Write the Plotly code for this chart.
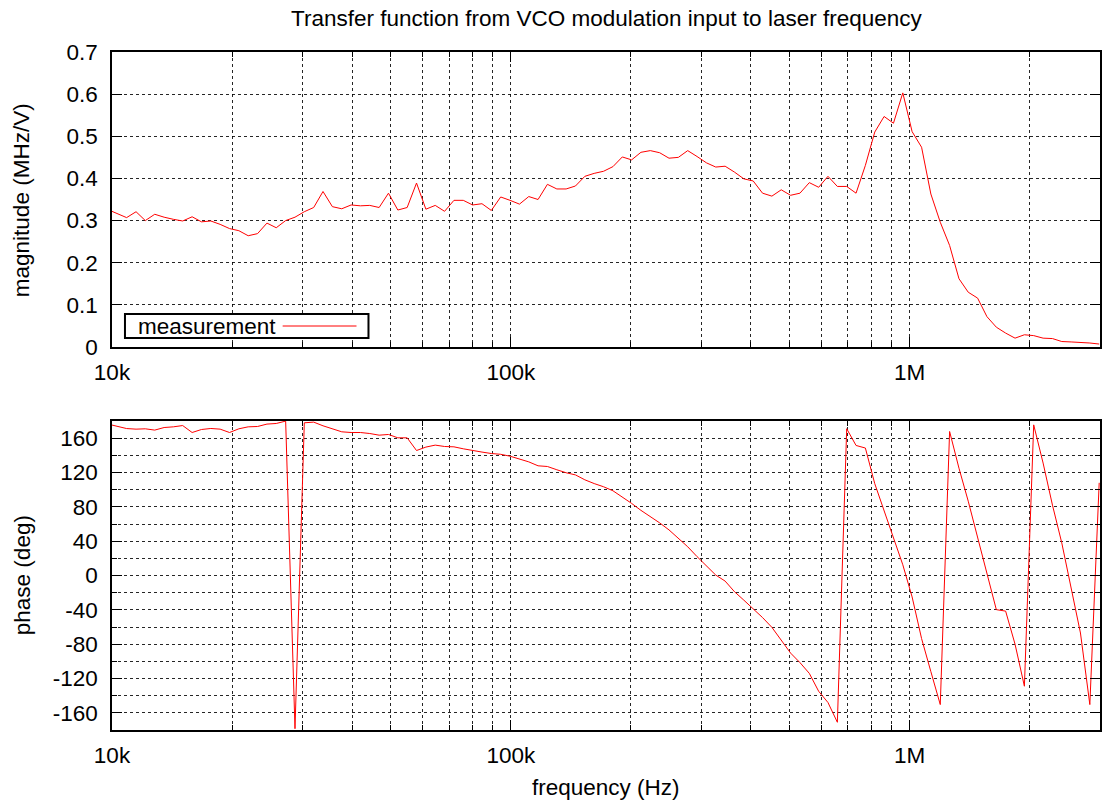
import math
import plotly.graph_objects as go

# ---------------- data ----------------
freq_hz = [
    9768, 10310, 10880, 11490, 12120, 12800, 13510, 14250, 15040, 15880,
    16760, 17690, 18670, 19710, 20800, 21950, 23170, 24460, 25810, 27250,
    28760, 30350, 32040, 33810, 35690, 37670, 39760, 41960, 44290, 46750,
    49340, 52080, 54960, 58010, 61230, 64630, 68210, 72000, 75990, 80210,
    84650, 89350, 94310, 99540, 105100, 110900, 117000, 123500, 130400, 137600,
    145200, 153300, 161800, 170800, 180300, 190300, 200800, 211900, 223700, 236100,
    249200, 263000, 277600, 293000, 309300, 326400, 344500, 363700, 383800, 405100,
    427600, 451300, 476300, 502800, 530700, 560100, 591200, 623900, 658600, 695100,
    733700, 774300, 817300, 862600, 910500, 961000, 1014000, 1071000, 1130000, 1193000,
    1259000, 1329000, 1402000, 1480000, 1562000, 1649000, 1740000, 1837000, 1939000, 2046000,
    2160000, 2280000, 2406000, 2540000, 2680000, 2829000, 2986000,
]

magnitude_mhz_per_v = [
    0.326, 0.317, 0.307, 0.321, 0.300, 0.315, 0.308, 0.303, 0.299, 0.309,
    0.297, 0.299, 0.291, 0.281, 0.276, 0.264, 0.269, 0.294, 0.283, 0.300,
    0.308, 0.321, 0.331, 0.369, 0.333, 0.328, 0.337, 0.335, 0.336, 0.331,
    0.365, 0.325, 0.331, 0.389, 0.327, 0.336, 0.322, 0.348, 0.348, 0.337,
    0.340, 0.324, 0.356, 0.348, 0.339, 0.357, 0.350, 0.386, 0.375, 0.375,
    0.382, 0.405, 0.412, 0.417, 0.428, 0.451, 0.444, 0.462, 0.466, 0.461,
    0.448, 0.450, 0.466, 0.452, 0.437, 0.427, 0.429, 0.415, 0.399, 0.394,
    0.365, 0.358, 0.373, 0.360, 0.365, 0.390, 0.379, 0.405, 0.381, 0.381,
    0.365, 0.431, 0.510, 0.547, 0.531, 0.603, 0.511, 0.474, 0.363, 0.296,
    0.241, 0.162, 0.130, 0.116, 0.072, 0.047, 0.033, 0.021, 0.029, 0.027,
    0.021, 0.020, 0.013, 0.012, 0.011, 0.0095, 0.007,
]

phase_deg = [
    176.4, 173.8, 171.2, 170.5, 170.9, 169.4, 172.4, 173.2, 174.7, 166.6,
    170.1, 171.3, 170.5, 166.6, 170.9, 173.2, 173.6, 176.4, 177.1, 179.9,
    -178.5, 177.9, 178.7, 174.4, 170.5, 167.4, 166.6, 166.6, 165.4, 163.5,
    164.3, 160.4, 160.4, 145.6, 149.6, 151.9, 150.3, 149.9, 147.6, 146.1,
    143.8, 142.1, 141.2, 139.0, 136.0, 132.4, 127.8, 127.0, 123.2, 119.7,
    117.2, 111.5, 107.1, 103.4, 98.7, 91.8, 84.0, 75.9, 68.8, 61.3,
    53.1, 43.6, 33.5, 22.0, 10.7, 0.5, -6.5, -18.9, -28.7, -38.7,
    -49.0, -60.4, -75.8, -90.4, -101.5, -114.0, -134.9, -148.0, -171.0, 171.0,
    151.5, 148.5, 107.0, 75.5, 46.0, 12.5, -25.0, -73.5, -112.0, -150.4,
    167.8, 125.0, 86.6, 44.0, 4.0, -39.8, -41.5, -80.0, -129.0, 175.5,
    131.0, 82.0, 38.0, -15.0, -67.0, -150.4, 108.0,
]

title_text = "Transfer function from VCO modulation input to laser frequency"
series_name = "measurement"
x_title = "frequency (Hz)"
mag_title = "magnitude (MHz/V)"
phase_title = "phase (deg)"

x_range_hz = [10000, 3000000]
x_tick_vals = [1e4, 1e5, 1e6]
x_tick_text = ["10k", "100k", "1M"]
x_minor_vals = [2e4, 3e4, 4e4, 5e4, 6e4, 7e4, 8e4, 9e4,
                2e5, 3e5, 4e5, 5e5, 6e5, 7e5, 8e5, 9e5,
                2e6, 3e6]
mag_tick_vals = [0, 0.1, 0.2, 0.3, 0.4, 0.5, 0.6, 0.7]
mag_tick_text = ["0", "0.1", "0.2", "0.3", "0.4", "0.5", "0.6", "0.7"]
phase_tick_vals = [-160, -120, -80, -40, 0, 40, 80, 120, 160]
phase_tick_text = ["-160", "-120", "-80", "-40", "0", "40", "80", "120", "160"]
phase_minor_vals = [-140, -100, -60, -20, 20, 60, 100, 140]

# ---------------- styling ----------------
FONT = "Liberation Sans, Arial, Helvetica, sans-serif"
FS = 22.5
LINE_RED = "#ff0000"
GRID = "rgba(0,0,0,0.85)"
GDASH = "3px,3px"

W, H = 1104, 803
ML, MR, MT, MB = 112, 2, 52, 73
PW, PH = W - ML - MR, H - MT - MB


def py2paper(ypx):
    return (H - MB - ypx) / PH


def px2paper(xpx):
    return (xpx - ML) / PW


fig = go.Figure()
fig.add_trace(go.Scatter(x=freq_hz, y=magnitude_mhz_per_v, mode="lines",
                         name=series_name, line=dict(color=LINE_RED, width=1),
                         xaxis="x", yaxis="y", showlegend=False))
fig.add_trace(go.Scatter(x=freq_hz, y=phase_deg, mode="lines",
                         name=series_name, line=dict(color=LINE_RED, width=1),
                         xaxis="x2", yaxis="y2", showlegend=False))

common = dict(
    showline=True, linecolor="black", linewidth=1.5, mirror="ticks",
    ticks="inside", ticklen=10, tickwidth=1.2, tickcolor="black",
    showgrid=True, gridcolor=GRID, gridwidth=1, griddash=GDASH,
    zeroline=False, tickfont=dict(family=FONT, size=FS, color="black"),
)

xcommon = dict(
    common, type="log",
    range=[math.log10(x_range_hz[0]), math.log10(x_range_hz[1])],
    tickmode="array", tickvals=x_tick_vals, ticktext=x_tick_text,
    ticklabelstandoff=4,
    minor=dict(tickmode="array", tickvals=x_minor_vals, ticks="inside",
               ticklen=5, tickwidth=1.2, tickcolor="black", showgrid=True,
               gridcolor=GRID, gridwidth=1, griddash=GDASH),
)

top_dom = [py2paper(347), 1.0]
bot_dom = [0.0, py2paper(421)]

fig.update_layout(
    width=W, height=H,
    margin=dict(l=ML, r=MR, t=MT, b=MB),
    paper_bgcolor="white", plot_bgcolor="white",
    showlegend=False,
    xaxis=dict(xcommon, anchor="y", domain=[0, 1]),
    yaxis=dict(common, anchor="x", domain=top_dom, range=[0, 0.7],
               tickmode="array", tickvals=mag_tick_vals, ticktext=mag_tick_text,
               ticklabelstandoff=8),
    xaxis2=dict(xcommon, anchor="y2", domain=[0, 1]),
    yaxis2=dict(common, anchor="x2", domain=bot_dom, range=[-180, 180],
                tickmode="array", tickvals=phase_tick_vals,
                ticktext=phase_tick_text,
                ticklabelstandoff=8,
                minor=dict(tickmode="array", tickvals=phase_minor_vals,
                           ticks="inside", ticklen=5, tickwidth=1.2,
                           tickcolor="black", showgrid=True, gridcolor=GRID,
                           gridwidth=1, griddash=GDASH)),
)

annotations = [
    dict(text=title_text, xref="paper", yref="paper", x=0.5, y=py2paper(18),
         xanchor="center", yanchor="middle", showarrow=False,
         font=dict(family=FONT, size=FS, color="black")),
    dict(text=mag_title, xref="paper", yref="paper", x=px2paper(22),
         y=py2paper(200), xanchor="center", yanchor="middle", textangle=-90,
         showarrow=False, font=dict(family=FONT, size=FS, color="black")),
    dict(text=phase_title, xref="paper", yref="paper", x=px2paper(22),
         y=py2paper(575), xanchor="center", yanchor="middle", textangle=-90,
         showarrow=False, font=dict(family=FONT, size=FS, color="black")),
    dict(text=x_title, xref="paper", yref="paper", x=0.5, y=py2paper(787),
         xanchor="center", yanchor="middle", showarrow=False,
         font=dict(family=FONT, size=FS, color="black")),
    # legend label (gnuplot style: text first, then sample line)
    dict(text=series_name, xref="paper", yref="paper", x=px2paper(136),
         y=py2paper(326), xanchor="left", yanchor="middle", showarrow=False,
         font=dict(family=FONT, size=FS, color="black")),
]
fig.update_layout(annotations=annotations)

shapes = [
    dict(type="rect", xref="paper", yref="paper",
         x0=px2paper(125), x1=px2paper(369), y0=py2paper(338), y1=py2paper(314),
         line=dict(color="black", width=2), fillcolor="white", layer="above"),
    dict(type="line", xref="paper", yref="paper",
         x0=px2paper(283), x1=px2paper(357), y0=py2paper(326), y1=py2paper(326),
         line=dict(color=LINE_RED, width=1), layer="above"),
]
fig.update_layout(shapes=shapes)

fig.write_html(
    "out.html",
    config={"displayModeBar": False},
    post_script="document.body.style.margin='0px';document.body.style.overflow='hidden';",
)
